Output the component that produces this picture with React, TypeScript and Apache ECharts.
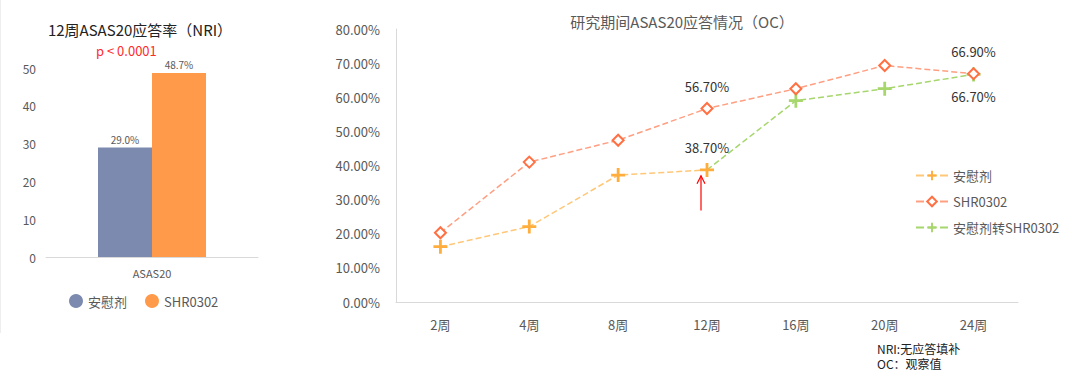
import React, { useEffect, useRef } from "react";
import * as echarts from "echarts";

const barCategories = ["ASAS20"];
const placeboNRI = [29.0];
const shrNRI = [48.7];

const weeks = ["2周", "4周", "8周", "12周", "16周", "20周", "24周"];
const placeboOC = [16.2, 22.1, 37.2, 38.7, null, null, null];
const shrOC = [20.3, 41.0, 47.4, 56.7, 62.5, 69.3, 66.9];
const switchOC = [null, null, null, 38.7, 59.0, 62.5, 66.7];

const arrowWeek = "12周";
const arrowFrom = 26.8;
const arrowTo = 37.0;

const FONT = "'Noto Sans CJK SC', 'Noto Sans', sans-serif";
const PLUS = "path://M4,0H6V4H10V6H6V10H4V6H0V4H4Z";

export default function App() {
  const ref = useRef<HTMLDivElement>(null);
  useEffect(() => {
    const chart = echarts.init(ref.current!, null, { renderer: "svg" });
    const lbl = (pos: string) => ({
      show: true,
      position: pos,
      distance: 9,
      formatter: (p: any) => `${Number(p.value).toFixed(2)}%`,
      color: "#333",
      fontSize: 13,
      fontFamily: FONT,
    });
    chart.setOption({
      animation: false,
      textStyle: { fontFamily: FONT },
      title: [
        {
          text: "12周ASAS20应答率（NRI）",
          left: 135,
          top: 17,
          textAlign: "center",
          textStyle: { fontSize: 15, fontWeight: "normal", color: "#222", fontFamily: FONT },
        },
        {
          text: "研究期间ASAS20应答情况（OC）",
          left: 677,
          top: 9,
          textAlign: "center",
          textStyle: { fontSize: 15, fontWeight: "normal", color: "#595959", fontFamily: FONT },
        },
      ],
      legend: [
        {
          data: ["安慰剂", "SHR0302"],
          icon: "circle",
          left: 64,
          top: 289,
          itemWidth: 14,
          itemHeight: 14,
          itemGap: 18,
          textStyle: { fontSize: 13, color: "#595959", fontFamily: FONT },
        },
        {
          data: ["安慰剂 ", "SHR0302 ", "安慰剂转SHR0302"],
          orient: "vertical",
          left: 910,
          top: 164,
          itemWidth: 32,
          itemHeight: 12,
          itemGap: 13,
          textStyle: { fontSize: 13, color: "#595959", fontFamily: FONT },
        },
      ],
      grid: [
        { left: 46, top: 68, width: 212, height: 189 },
        { left: 396, top: 29, width: 622, height: 273 },
      ],
      xAxis: [
        {
          type: "category",
          gridIndex: 0,
          data: barCategories,
          axisLine: { lineStyle: { color: "#d9d9d9" } },
          axisTick: { alignWithLabel: true, lineStyle: { color: "#d9d9d9" } },
          axisLabel: { color: "#595959", fontSize: 11, margin: 10, fontFamily: FONT },
        },
        {
          type: "category",
          gridIndex: 1,
          data: weeks,
          axisLine: { lineStyle: { color: "#d9d9d9" } },
          axisTick: { show: false },
          axisLabel: { color: "#595959", fontSize: 13, margin: 16, fontFamily: FONT },
        },
      ],
      yAxis: [
        {
          type: "value",
          gridIndex: 0,
          min: 0,
          max: 50,
          interval: 10,
          splitLine: { show: false },
          axisLine: { show: false },
          axisLabel: { color: "#595959", fontSize: 12, margin: 10, fontFamily: FONT },
        },
        {
          type: "value",
          gridIndex: 1,
          min: 0,
          max: 80,
          interval: 10,
          splitLine: { show: false },
          axisLine: { show: true, lineStyle: { color: "#d9d9d9" } },
          axisLabel: {
            color: "#595959",
            fontSize: 13,
            margin: 16,
            fontFamily: FONT,
            formatter: (v: number) => `${v.toFixed(2)}%`,
          },
        },
      ],
      series: [
        {
          name: "安慰剂",
          type: "bar",
          xAxisIndex: 0,
          yAxisIndex: 0,
          data: placeboNRI,
          barWidth: 54,
          barGap: "0%",
          itemStyle: { color: "#7B8AAE" },
          label: {
            show: true,
            position: "top",
            distance: 3,
            color: "#595959",
            fontSize: 10,
            formatter: (p: any) => `${Number(p.value).toFixed(1)}%`,
          },
        },
        {
          name: "SHR0302",
          type: "bar",
          xAxisIndex: 0,
          yAxisIndex: 0,
          data: shrNRI,
          barWidth: 54,
          barGap: "0%",
          itemStyle: { color: "#FF9A4B" },
          label: {
            show: true,
            position: "top",
            distance: 3,
            color: "#595959",
            fontSize: 10,
            formatter: (p: any) => `${Number(p.value).toFixed(1)}%`,
          },
        },
        {
          name: "安慰剂转SHR0302",
          type: "line",
          xAxisIndex: 1,
          yAxisIndex: 1,
          data: switchOC.map((v, i) =>
            i === 3
              ? { value: v, symbol: "none" }
              : i === 6
              ? { value: v, label: lbl("bottom") }
              : v
          ),
          symbol: PLUS,
          symbolSize: 14,
          itemStyle: { color: "#A6D66C" },
          lineStyle: { color: "#A6D66C", type: "dashed", width: 1.5 },
          z: 2,
        },
        {
          name: "SHR0302 ",
          type: "line",
          xAxisIndex: 1,
          yAxisIndex: 1,
          data: shrOC.map((v, i) => (i === 3 || i === 6 ? { value: v, label: lbl("top") } : v)),
          symbol: "diamond",
          symbolSize: 11,
          itemStyle: { color: "#fff", borderColor: "#FF7043", borderWidth: 2 },
          lineStyle: { color: "#FF9F82", type: "dashed", width: 1.5 },
          z: 3,
        },
        {
          name: "安慰剂 ",
          type: "line",
          xAxisIndex: 1,
          yAxisIndex: 1,
          data: placeboOC.map((v, i) => (i === 3 ? { value: v, label: lbl("top") } : v)),
          symbol: PLUS,
          symbolSize: 14,
          itemStyle: { color: "#FFAE3D" },
          lineStyle: { color: "#FFC778", type: "dashed", width: 1.5 },
          z: 4,
        },
      ],
      graphic: [
        {
          id: "border",
          type: "line",
          shape: { x1: 0.5, y1: 0, x2: 0.5, y2: 333 },
          style: { stroke: "#eeeeee", lineWidth: 1 },
        },
        {
          id: "pval",
          type: "text",
          left: 96,
          top: 44,
          style: { text: "p < 0.0001", fill: "#FF2B2B", fontSize: 13, fontFamily: FONT },
        },
        {
          id: "note1",
          type: "text",
          left: 877,
          top: 342,
          style: { text: "NRI:无应答填补", fill: "#222", fontSize: 12, fontFamily: FONT },
        },
        {
          id: "note2",
          type: "text",
          left: 877,
          top: 357,
          style: { text: "OC：观察值", fill: "#222", fontSize: 12, fontFamily: FONT },
        },
      ],
    });
    const tail = chart.convertToPixel({ gridIndex: 1 }, [arrowWeek, arrowFrom]) as number[];
    const tip = chart.convertToPixel({ gridIndex: 1 }, [arrowWeek, arrowTo]) as number[];
    const ax = tip[0] - 6;
    chart.setOption({
      graphic: [
        {
          id: "arrowShaft",
          type: "line",
          shape: { x1: ax, y1: tail[1], x2: ax, y2: tip[1] },
          style: { stroke: "#FF0000", lineWidth: 1.2 },
          z: 10,
        },
        {
          id: "arrowHead",
          type: "polyline",
          shape: { points: [[ax - 4, tip[1] + 8], [ax, tip[1]], [ax + 4, tip[1] + 8]] },
          style: { stroke: "#FF0000", lineWidth: 1.2, fill: "none" },
          z: 10,
        },
      ],
    });
    return () => chart.dispose();
  }, []);
  return (
    <div
      ref={ref}
      style={{ position: "fixed", left: 0, top: 0, width: 1080, height: 380, background: "#fff" }}
    />
  );
}
